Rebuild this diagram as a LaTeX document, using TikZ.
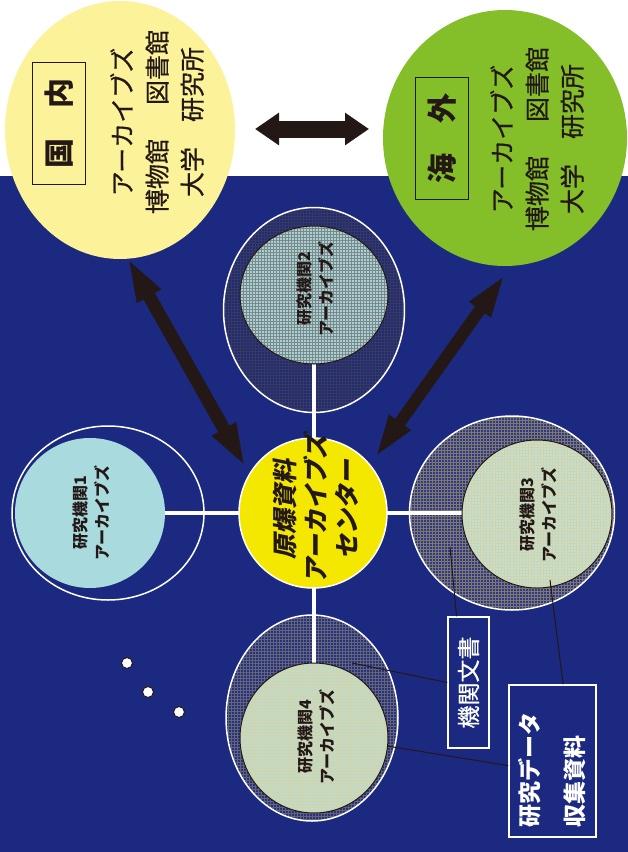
\documentclass[tikz,border=0pt]{standalone}
\usepackage{fontspec}
\newfontfamily\jp{Noto Sans CJK JP}
\newfontfamily\jpm{Noto Sans CJK JP}[FakeBold=0.6]
\newfontfamily\jpsl{Noto Sans CJK JP}[FakeSlant=0.2]
\usetikzlibrary{shapes.geometric,arrows.meta,patterns,calc}
\definecolor{navy}{RGB}{27,42,128}
\definecolor{paleyel}{RGB}{251,242,153}
\definecolor{leaf}{RGB}{132,190,40}
\definecolor{cyel}{RGB}{245,232,0}
\definecolor{ink}{RGB}{35,24,21}
\definecolor{lblue}{RGB}{168,218,222}
\definecolor{ctwoin}{RGB}{165,210,212}
\definecolor{ctwoout}{RGB}{32,42,118}
\definecolor{cthreein}{RGB}{186,226,218}
\definecolor{cthreeout}{RGB}{48,58,128}
\definecolor{cfourin}{RGB}{182,222,212}
\definecolor{cfourout}{RGB}{38,50,126}
\definecolor{gridgray}{RGB}{55,58,95}
\definecolor{gridtan}{RGB}{125,120,115}
\definecolor{gridfour}{RGB}{100,100,120}
\definecolor{gridlight}{RGB}{215,210,165}
\definecolor{gridmid}{RGB}{125,135,135}
\begin{document}
\begin{tikzpicture}[x=1pt,y=-1pt,
  blob/.style={ellipse, inner sep=0pt},
  outerring/.style={blob, draw=white, line width=1.5pt},
  innerdisc/.style={blob, draw=ink, line width=1pt},
  bigtext/.style={rotate=90, align=center, text=ink, font=\jpm\fontsize{25pt}{35pt}\selectfont},
  headbox/.style={rotate=90, draw=ink, line width=1pt, inner sep=0pt, minimum width=122pt, minimum height=53pt, text=ink, font=\jp\bfseries\fontsize{30pt}{30pt}\selectfont},
  smalltext/.style={rotate=90, align=center, text=ink, font=\jp\bfseries\fontsize{16pt}{22pt}\selectfont},
  bigarrow/.style={draw=ink, line width=#1},
  spoke/.style={draw=white, line width=4pt},
  leader/.style={draw=ink, line width=1pt},
  labelbox/.style={rotate=90, draw=white, line width=1.5pt, text=white},
  dot/.style={circle, fill=white, draw=ink, line width=1pt, minimum size=11pt, inner sep=0pt}
]
\useasboundingbox (0,0) rectangle (628,852);
\fill[white] (0,0) rectangle (628,176);
\fill[navy] (0,176) rectangle (628,852);

% big circles
\node[blob, fill=paleyel, minimum width=230pt, minimum height=258pt] (kokunai) at (120,130) {};
\node[blob, fill=leaf, minimum width=244pt, minimum height=256pt] (kaigai) at (505,138) {};

\node[headbox] (knbox) at (59,123) {国　内};
\node[bigtext] (kntext) at (157,122) {アーカイブズ\\博物館\hspace{34pt}図書館\\大学\hspace{25pt}研究所};
\node[headbox] (kgbox) at (442,138) {海　外};
\node[bigtext] (kgtext) at (537,139) {アーカイブズ\\博物館\hspace{34pt}図書館\\大学\hspace{25pt}研究所};

% outer rings
\node[outerring, minimum width=192pt, minimum height=174pt] (c1out) at (108,513) {};
\node[outerring, preaction={fill=ctwoout}, pattern=grid, pattern color=gridgray, minimum width=181pt, minimum height=205pt] (c2out) at (314,310) {};
\node[outerring, preaction={fill=cthreeout}, pattern=grid, pattern color=gridtan, minimum width=205pt, minimum height=194pt] (c3out) at (512,513) {};
\node[outerring, preaction={fill=cfourout}, pattern=grid, pattern color=gridfour, minimum width=172pt, minimum height=206pt] (c4out) at (312,718) {};

% spokes (coordinates on the inner disc rims)
\coordinate (s1) at (165,513);
\coordinate (s3) at (462,513);
\coordinate (s2) at (314,364);
\coordinate (s4) at (314,663);
\draw[spoke] (s1) -- (s3);
\draw[spoke] (s2) -- (s4);

% inner discs
\node[blob, fill=lblue, minimum width=150pt, minimum height=150pt] (c1in) at (90,513) {};
\node[innerdisc, preaction={fill=ctwoin}, pattern=grid, pattern color=gridmid, minimum width=148pt, minimum height=138pt] (c2in) at (314,295) {};
\node[innerdisc, preaction={fill=cthreein}, pattern=grid, pattern color=gridlight, minimum width=150pt, minimum height=148pt] (c3in) at (537,514) {};
\node[innerdisc, preaction={fill=cfourin}, pattern=grid, pattern color=gridlight, minimum width=148pt, minimum height=150pt] (c4in) at (314,738) {};

% centre
\node[blob, fill=cyel, draw=white, line width=1.5pt, minimum width=148pt, minimum height=150pt] (centre) at (313,513) {};
\node[rotate=90, align=center, text=ink, font=\jpsl\bfseries\fontsize{25pt}{31pt}\selectfont] (ctext) at (316,509) {原爆資料\\アーカイブズ\\センター};

\node[smalltext] (t1) at (91,513) {研究機関1\\アーカイブズ};
\node[smalltext] (t2) at (315,289) {研究機関2\\アーカイブズ};
\node[smalltext] (t3) at (538,515) {研究機関3\\アーカイブズ};
\node[smalltext] (t4) at (316,737) {研究機関4\\アーカイブズ};

% arrows
\coordinate (a1s) at (127,257);
\coordinate (a1e) at (246,468);
\coordinate (a2s) at (506,273);
\coordinate (a2e) at (374,459);
\coordinate (a3s) at (255,129);
\coordinate (a3e) at (369,129);
\draw[bigarrow=13pt, {Triangle[length=45pt,width=24pt]}-{Triangle[length=45pt,width=24pt]}] (a1s) -- (a1e);
\draw[bigarrow=12pt, {Triangle[length=45pt,width=23pt]}-{Triangle[length=45pt,width=23pt]}] (a2s) -- (a2e);
\draw[bigarrow=17pt, {Triangle[length=24pt,width=31pt]}-{Triangle[length=24pt,width=31pt]}] (a3s) -- (a3e);

% labels
\node[labelbox, inner sep=0pt, minimum width=131pt, minimum height=41pt, font=\jpm\fontsize{23pt}{23pt}\selectfont] (lab1) at (468.5,682.5) {機関文書};
\node[labelbox, text width=132pt, align=left, inner xsep=10pt, inner ysep=0pt, minimum height=87pt, font=\jp\bfseries\fontsize{23pt}{45pt}\selectfont] (lab2) at (552.5,761) {研究データ\\収集資料};

% leaders
\coordinate (l1) at (450,547);
\coordinate (l2) at (352,663);
\coordinate (l3) at (550,580);
\coordinate (l4) at (387,746);
\draw[leader] (l1) -- ($(lab1.north east)!0.22!(lab1.south east)$);
\draw[leader] (l2) -- (lab1.north);
\draw[leader] (l3) -- ($(lab2.north east)!0.62!(lab2.south east)$);
\draw[leader] (l4) -- ($(lab2.north east)!0.53!(lab2.north west)$);

% dots
\node[dot] (d1) at (127,663) {};
\node[dot] (d2) at (148,692) {};
\node[dot] (d3) at (179,712) {};
\end{tikzpicture}
\end{document}
